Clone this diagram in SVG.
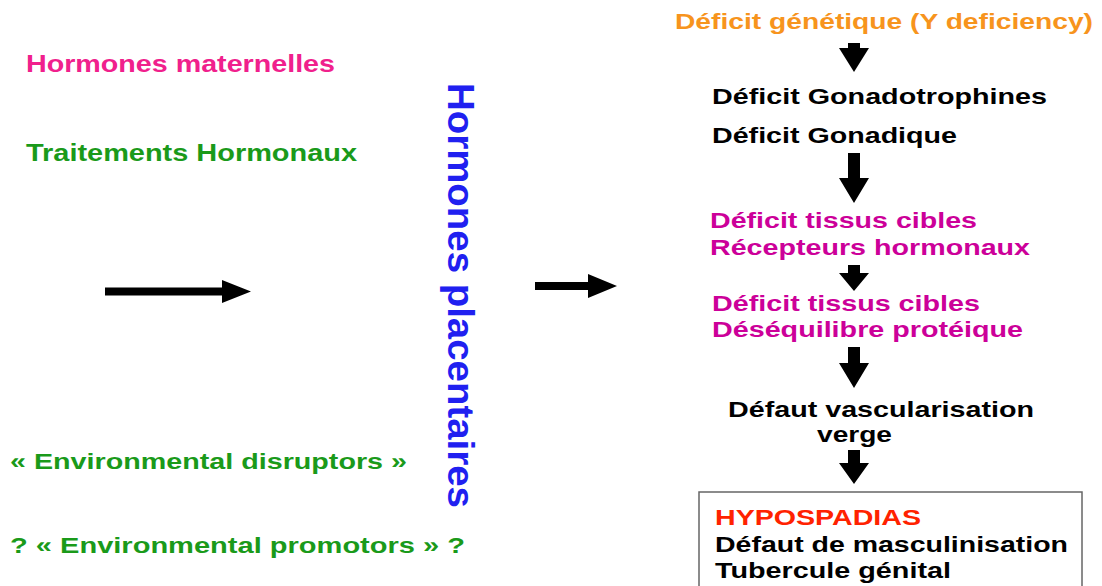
<svg xmlns="http://www.w3.org/2000/svg" width="1102" height="586" viewBox="0 0 1102 586">
<style>
text{font-family:"Liberation Sans",Arial,sans-serif;font-weight:bold;font-size:22px}
.big{font-size:24px}
.vert{font-size:36px}
.pink{fill:#F0208C}
.green{fill:#1A9A1A}
.blue{fill:#2020F0}
.orange{fill:#F7941D}
.mag{fill:#CC0099}
.blk{fill:#000}
.red{fill:#FF2200}
.arr{fill:#000}
</style>
<rect width="1102" height="586" fill="#fff"/>
<g id="left-sources">
<text class="pink big" x="26" y="72" textLength="309" lengthAdjust="spacingAndGlyphs">Hormones maternelles</text>
<text class="green big" x="26" y="161" textLength="331" lengthAdjust="spacingAndGlyphs">Traitements Hormonaux</text>
<text class="green" x="10" y="469" textLength="397" lengthAdjust="spacingAndGlyphs">« Environmental disruptors »</text>
<text class="green" x="10" y="553" textLength="455" lengthAdjust="spacingAndGlyphs">? « Environmental promotors » ?</text>
</g>
<g id="placenta">
<text class="blue vert" transform="translate(448,83) rotate(90)" x="0" y="0" textLength="425" lengthAdjust="spacingAndGlyphs">Hormones placentaires</text>
</g>
<g id="chain">
<text class="orange" x="675" y="29" textLength="418" lengthAdjust="spacingAndGlyphs">Déficit génétique (Y deficiency)</text>
<text class="blk" x="712" y="104" textLength="335" lengthAdjust="spacingAndGlyphs">Déficit Gonadotrophines</text>
<text class="blk" x="712" y="143" textLength="245" lengthAdjust="spacingAndGlyphs">Déficit Gonadique</text>
<text class="mag" x="710" y="228" textLength="267" lengthAdjust="spacingAndGlyphs">Déficit tissus cibles</text>
<text class="mag" x="710" y="255" textLength="320" lengthAdjust="spacingAndGlyphs">Récepteurs hormonaux</text>
<text class="mag" x="712" y="311" textLength="268" lengthAdjust="spacingAndGlyphs">Déficit tissus cibles</text>
<text class="mag" x="712" y="337" textLength="311" lengthAdjust="spacingAndGlyphs">Déséquilibre protéique</text>
<text class="blk" x="728" y="417" textLength="306" lengthAdjust="spacingAndGlyphs">Défaut vascularisation</text>
<text class="blk" x="817" y="442" textLength="75" lengthAdjust="spacingAndGlyphs">verge</text>
</g>
<g id="result">
<rect x="699" y="492" width="383" height="110" fill="#fff" stroke="#666" stroke-width="1.5"/>
<text class="red" x="715" y="525" textLength="206" lengthAdjust="spacingAndGlyphs">HYPOSPADIAS</text>
<text class="blk" x="715" y="552" textLength="353" lengthAdjust="spacingAndGlyphs">Défaut de masculinisation</text>
<text class="blk" x="715" y="578" textLength="236" lengthAdjust="spacingAndGlyphs">Tubercule génital</text>
</g>
<g id="connectors" class="arr">
<path d="M105,287.5 H222 V280 L251,291.5 L222,303 V295.5 H105 Z"/>
<path d="M535,282 H588 V274 L617,286 L588,298 V290 H535 Z"/>
<path d="M848,43 H860 V48 H869 L854,72 L839,48 H848 Z"/>
<path d="M848,153 H860 V178 H869 L854,203 L839,178 H848 Z"/>
<path d="M848,265 H860 V273 H869 L854,291 L839,273 H848 Z"/>
<path d="M848,347 H860 V363 H869 L854,388 L839,363 H848 Z"/>
<path d="M848,450 H860 V463 H869 L854,484 L839,463 H848 Z"/>
</g>
</svg>
